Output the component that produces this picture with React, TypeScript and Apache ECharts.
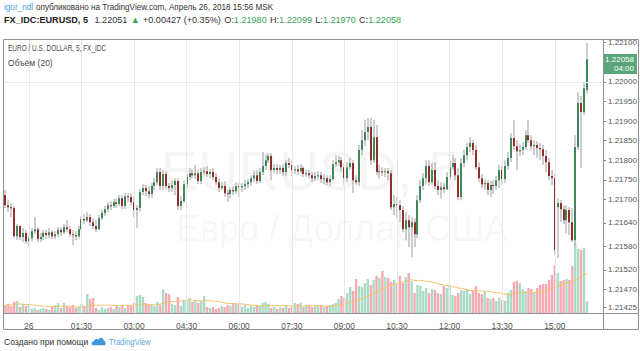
import React, { useEffect, useRef } from "react";
import * as echarts from "echarts";

// ---------- data ----------
const START_TIME = "23:20"; // first 5-minute bar (25 Apr)
const FUTURE_SLOTS = 5; // empty slots right of the last bar

const OPEN = [
  1.21711, 1.21685, 1.2168, 1.21678, 1.21606, 1.21632, 1.21604, 1.21614, 1.21593, 1.21601,
  1.21619, 1.21624, 1.21599, 1.21604, 1.21614, 1.21609, 1.21616, 1.21606, 1.21611, 1.21622,
  1.21616, 1.21629, 1.21624, 1.21611, 1.21609, 1.21606, 1.21624, 1.2165, 1.21647, 1.21655,
  1.21642, 1.21632, 1.21624, 1.21652, 1.21665, 1.21675, 1.21685, 1.21683, 1.21693, 1.21688,
  1.21703, 1.21683, 1.21708, 1.21706, 1.21693, 1.21673, 1.21678, 1.21719, 1.21729, 1.21721,
  1.21714, 1.21734, 1.21744, 1.2177, 1.21734, 1.21765, 1.21734, 1.21729, 1.21737, 1.21747,
  1.21683, 1.21696, 1.21739, 1.21757, 1.21767, 1.21762, 1.21767, 1.21747, 1.2177, 1.21772,
  1.21765, 1.2177, 1.21757, 1.21744, 1.21729, 1.21734, 1.21716, 1.21714, 1.21724, 1.21721,
  1.21734, 1.21731, 1.21734, 1.21739, 1.21744, 1.21754, 1.21762, 1.21747, 1.2177, 1.21785,
  1.218, 1.21811, 1.21775, 1.2178, 1.21775, 1.2178, 1.2177, 1.21793, 1.21788, 1.21775,
  1.21777, 1.21772, 1.2178, 1.21765, 1.21767, 1.21762, 1.21754, 1.2176, 1.21762, 1.21752,
  1.21754, 1.21744, 1.21752, 1.2179, 1.21795, 1.218, 1.21782, 1.21754, 1.21782, 1.21793,
  1.21749, 1.21744, 1.21826, 1.21851, 1.21872, 1.21885, 1.218, 1.21859, 1.2177, 1.21772,
  1.2177, 1.21772, 1.21767, 1.2168, 1.21688, 1.21685, 1.21673, 1.21624, 1.21647, 1.21629,
  1.21642, 1.21611, 1.21698, 1.21734, 1.21754, 1.21785, 1.21744, 1.21775, 1.21734, 1.21724,
  1.21731, 1.21726, 1.21757, 1.21782, 1.21793, 1.21762, 1.21706, 1.21793, 1.21813, 1.21834,
  1.21844, 1.21826, 1.21782, 1.21754, 1.21739, 1.21742, 1.21724, 1.21737, 1.21734, 1.21749,
  1.21775, 1.21752, 1.21785, 1.21806, 1.21857, 1.21836, 1.21823, 1.21826, 1.21834, 1.21864,
  1.21851, 1.21836, 1.21839, 1.21831, 1.21828, 1.21811, 1.21795, 1.2176, 1.21754, 1.2168,
  1.21691, 1.21675, 1.21647, 1.21673, 1.21642, 1.21596, 1.21834, 1.21946, 1.21923, 1.2198,
];
const HIGH = [
  1.21724, 1.21698, 1.21691, 1.21683, 1.21637, 1.21634, 1.21627, 1.21622, 1.21609, 1.21627,
  1.21655, 1.21629, 1.21614, 1.21622, 1.21622, 1.21627, 1.21622, 1.21619, 1.21629, 1.21629,
  1.21637, 1.21647, 1.21632, 1.21622, 1.21619, 1.21632, 1.21657, 1.21663, 1.21668, 1.21663,
  1.21652, 1.21647, 1.2166, 1.21673, 1.21683, 1.21693, 1.21696, 1.21701, 1.21701, 1.21711,
  1.21711, 1.21716, 1.21716, 1.21716, 1.21708, 1.21685, 1.21726, 1.21739, 1.21737, 1.21734,
  1.21742, 1.21754, 1.2178, 1.2178, 1.21775, 1.21772, 1.21742, 1.21749, 1.21754, 1.21754,
  1.21708, 1.21749, 1.21765, 1.2178, 1.21775, 1.21788, 1.21775, 1.2178, 1.21782, 1.21785,
  1.21777, 1.2178, 1.21767, 1.21754, 1.21744, 1.21747, 1.21726, 1.21731, 1.21734, 1.21744,
  1.21742, 1.21742, 1.21749, 1.21752, 1.21762, 1.21772, 1.21775, 1.2178, 1.21821, 1.21813,
  1.21818, 1.21818, 1.2179, 1.2179, 1.21788, 1.2179, 1.218, 1.21806, 1.218, 1.21785,
  1.21788, 1.2179, 1.21785, 1.21775, 1.21775, 1.2177, 1.2177, 1.21772, 1.2177, 1.21765,
  1.21762, 1.21762, 1.218, 1.21813, 1.21811, 1.21808, 1.21793, 1.21795, 1.21806, 1.218,
  1.21762, 1.21839, 1.21877, 1.21903, 1.21908, 1.21908, 1.21903, 1.2189, 1.21788, 1.21782,
  1.2178, 1.2178, 1.21775, 1.21711, 1.21706, 1.21698, 1.21683, 1.21668, 1.2166, 1.21655,
  1.21652, 1.21711, 1.21749, 1.21767, 1.218, 1.218, 1.21793, 1.21795, 1.21749, 1.21744,
  1.21742, 1.2177, 1.218, 1.21813, 1.21806, 1.2178, 1.21806, 1.21826, 1.21844, 1.21859,
  1.21851, 1.21839, 1.21795, 1.21765, 1.21752, 1.21749, 1.21747, 1.21749, 1.2176, 1.21788,
  1.21785, 1.218, 1.21821, 1.21869, 1.21903, 1.21851, 1.21841, 1.21846, 1.21877, 1.21903,
  1.21864, 1.21851, 1.21849, 1.21844, 1.21839, 1.21826, 1.21806, 1.21775, 1.21765, 1.21703,
  1.21698, 1.21685, 1.21685, 1.2168, 1.21678, 1.21864, 1.21974, 1.21964, 1.22, 1.22099,
];
const LOW = [
  1.21678, 1.21668, 1.21655, 1.21601, 1.21596, 1.21596, 1.21591, 1.21586, 1.21581, 1.21593,
  1.21611, 1.21591, 1.21591, 1.21596, 1.21599, 1.21601, 1.21599, 1.21599, 1.21604, 1.21606,
  1.21611, 1.21616, 1.21604, 1.21583, 1.21596, 1.21601, 1.21622, 1.21637, 1.21642, 1.21632,
  1.21624, 1.21616, 1.21622, 1.21647, 1.21657, 1.21668, 1.21673, 1.21678, 1.21678, 1.21683,
  1.21675, 1.21675, 1.21693, 1.21685, 1.21655, 1.21627, 1.2167, 1.21711, 1.21708, 1.21703,
  1.21703, 1.21724, 1.21737, 1.21724, 1.21724, 1.21726, 1.21719, 1.21719, 1.21711, 1.21673,
  1.21673, 1.21691, 1.21729, 1.21749, 1.21754, 1.21752, 1.21739, 1.21739, 1.21762, 1.21757,
  1.21754, 1.21749, 1.21737, 1.21719, 1.21724, 1.21706, 1.21693, 1.21703, 1.21711, 1.21714,
  1.21706, 1.21719, 1.21724, 1.21729, 1.21734, 1.21744, 1.21739, 1.21742, 1.21762, 1.21775,
  1.21793, 1.21749, 1.21767, 1.21765, 1.21765, 1.2176, 1.2176, 1.2178, 1.2176, 1.21765,
  1.21762, 1.21767, 1.21757, 1.21757, 1.21754, 1.21744, 1.21747, 1.21749, 1.21742, 1.21739,
  1.21737, 1.21734, 1.21747, 1.21782, 1.21785, 1.21772, 1.21737, 1.21744, 1.21775, 1.21716,
  1.21737, 1.21734, 1.21813, 1.21836, 1.21851, 1.21788, 1.21793, 1.21762, 1.21754, 1.2176,
  1.21757, 1.21749, 1.21673, 1.2166, 1.21652, 1.21642, 1.21616, 1.21596, 1.21578, 1.21553,
  1.21578, 1.21601, 1.21691, 1.21724, 1.21737, 1.21734, 1.21737, 1.21724, 1.21711, 1.21703,
  1.21716, 1.21724, 1.21749, 1.21775, 1.21749, 1.21698, 1.21698, 1.21782, 1.218, 1.21821,
  1.21813, 1.21775, 1.21744, 1.21729, 1.21724, 1.21711, 1.21706, 1.21714, 1.21724, 1.21729,
  1.21737, 1.21742, 1.21775, 1.21795, 1.21826, 1.21775, 1.21811, 1.21813, 1.21826, 1.21844,
  1.21826, 1.21813, 1.21806, 1.218, 1.21788, 1.2177, 1.21749, 1.21737, 1.21558, 1.2155,
  1.21642, 1.21637, 1.21614, 1.21609, 1.21591, 1.21583, 1.21826, 1.2178, 1.21915, 1.2197,
];
const CLOSE = [
  1.21685, 1.2168, 1.21678, 1.21606, 1.21632, 1.21604, 1.21614, 1.21593, 1.21601, 1.21619,
  1.21624, 1.21599, 1.21604, 1.21614, 1.21609, 1.21616, 1.21606, 1.21611, 1.21622, 1.21616,
  1.21629, 1.21624, 1.21611, 1.21609, 1.21606, 1.21624, 1.2165, 1.21647, 1.21655, 1.21642,
  1.21632, 1.21624, 1.21652, 1.21665, 1.21675, 1.21685, 1.21683, 1.21693, 1.21688, 1.21703,
  1.21683, 1.21708, 1.21706, 1.21693, 1.21673, 1.21678, 1.21719, 1.21729, 1.21721, 1.21714,
  1.21734, 1.21744, 1.2177, 1.21734, 1.21765, 1.21734, 1.21729, 1.21737, 1.21747, 1.21683,
  1.21696, 1.21739, 1.21757, 1.21767, 1.21762, 1.21767, 1.21747, 1.2177, 1.21772, 1.21765,
  1.2177, 1.21757, 1.21744, 1.21729, 1.21734, 1.21716, 1.21714, 1.21724, 1.21721, 1.21734,
  1.21731, 1.21734, 1.21739, 1.21744, 1.21754, 1.21762, 1.21747, 1.2177, 1.21785, 1.218,
  1.21811, 1.21775, 1.2178, 1.21775, 1.2178, 1.2177, 1.21793, 1.21788, 1.21775, 1.21777,
  1.21772, 1.2178, 1.21765, 1.21767, 1.21762, 1.21754, 1.2176, 1.21762, 1.21752, 1.21754,
  1.21744, 1.21752, 1.2179, 1.21795, 1.218, 1.21782, 1.21754, 1.21782, 1.21793, 1.21749,
  1.21744, 1.21826, 1.21851, 1.21872, 1.21885, 1.218, 1.21859, 1.2177, 1.21772, 1.2177,
  1.21772, 1.21767, 1.2168, 1.21688, 1.21685, 1.21673, 1.21624, 1.21647, 1.21629, 1.21642,
  1.21611, 1.21698, 1.21734, 1.21754, 1.21785, 1.21744, 1.21775, 1.21734, 1.21724, 1.21731,
  1.21726, 1.21757, 1.21782, 1.21793, 1.21762, 1.21706, 1.21793, 1.21813, 1.21834, 1.21844,
  1.21826, 1.21782, 1.21754, 1.21739, 1.21742, 1.21724, 1.21737, 1.21734, 1.21749, 1.21775,
  1.21752, 1.21785, 1.21806, 1.21857, 1.21836, 1.21823, 1.21826, 1.21834, 1.21864, 1.21851,
  1.21836, 1.21839, 1.21831, 1.21828, 1.21811, 1.21795, 1.2176, 1.21754, 1.21571, 1.21691,
  1.21675, 1.21647, 1.21673, 1.21642, 1.21596, 1.21834, 1.21946, 1.21923, 1.21984, 1.22058,
];
const VOLUME = [
  80, 90, 70, 110, 120, 60, 80, 70, 90, 40,
  50, 30, 40, 50, 40, 30, 60, 80, 100, 50,
  100, 70, 60, 80, 50, 60, 90, 70, 190, 140,
  150, 50, 30, 60, 40, 50, 60, 40, 70, 60,
  80, 50, 70, 80, 100, 170, 180, 160, 100, 80,
  90, 70, 110, 80, 240, 200, 190, 90, 80, 160,
  70, 130, 120, 150, 110, 130, 100, 120, 170, 60,
  50, 60, 40, 50, 70, 60, 80, 70, 100, 90,
  100, 60, 80, 50, 70, 60, 80, 70, 100, 110,
  90, 50, 60, 40, 60, 50, 70, 50, 60, 100,
  90, 100, 60, 80, 70, 60, 80, 70, 80, 60,
  70, 80, 90, 100, 140, 170, 150, 200, 260, 220,
  340, 270, 260, 300, 340, 280, 330, 370, 350, 420,
  360, 350, 310, 330, 290, 370, 300, 360, 400, 320,
  200, 280, 270, 220, 250, 200, 240, 230, 200, 190,
  270, 250, 270, 180, 170, 200, 230, 220, 240, 190,
  220, 270, 200, 190, 210, 150, 140, 150, 120, 150,
  130, 120, 200, 230, 310, 320, 300, 240, 220, 250,
  240, 210, 250, 280, 290, 290, 330, 380, 480, 400,
  320, 330, 340, 330, 470, 700, 640, 630, 650, 120,
];
const VOLUME_MA_LENGTH = 20;

const X_TICK_TIMES = ["00:00", "01:30", "03:00", "04:30", "06:00", "07:30", "09:00", "10:30", "12:00", "13:30", "15:00"];
const X_TICK_LABELS = ["26", "01:30", "03:00", "04:30", "06:00", "07:30", "09:00", "10:30", "12:00", "13:30", "15:00"];
// 1.22050 sits under the last-price tag in the reference, so only its grid line shows
const Y_TICKS = [1.21425, 1.2147, 1.2152, 1.2158, 1.2164, 1.217, 1.2175, 1.218, 1.2185, 1.219, 1.2195, 1.22, 1.221];
const Y_GRID_EXTRA = [1.2205];
const Y_MIN = 1.2141;
const Y_MAX = 1.22107;
const LAST_PRICE = 1.22058;
const COUNTDOWN = "04:00";

// ---------- styling ----------
const FONT = "'Liberation Sans',Arial,sans-serif";
const UP = "#3f8658";
const DOWN = "#922f2b";
const WICK = "#9c9c9c";
const VOL_UP = "#a9dbc5";
const VOL_DOWN = "#f6abb4";
const GREEN = "#3aa35a";

function pad(n: number) {
  return n < 10 ? "0" + n : "" + n;
}

function buildCategories(): string[] {
  const [hh, mm] = START_TIME.split(":").map(Number);
  const start = hh * 60 + mm;
  const out: string[] = [];
  for (let k = 0; k < OPEN.length + FUTURE_SLOTS; k++) {
    const t = (start + 5 * k) % 1440;
    out.push(pad(Math.floor(t / 60)) + ":" + pad(t % 60));
  }
  return out;
}

let logoRegistered = false;
function registerLogo() {
  if (logoRegistered) return;
  logoRegistered = true;
  const Logo = echarts.graphic.extendPath(
    "M3 11 C0 11 0 6.5 3.2 6.5 C3.5 3.5 7 2.5 8.5 4.5 C9.5 1 15 1 15 5.5 C18 5.5 18 11 15 11 Z M3.5 9.5 L7 7 L9.5 8.5 L14 5 L14.5 5.7 L9.6 9.6 L7 8 L4 10 Z",
    {}
  );
  echarts.graphic.registerShape("tvlogo", Logo);
}

function txt(x: number, y: number, text: string, fill: string, size: number, scaleX: number, extra: any = {}) {
  return {
    type: "text",
    x,
    y,
    scaleX,
    z: 50,
    style: {
      text,
      fill,
      fontSize: size,
      fontFamily: FONT,
      textVerticalAlign: "middle",
      ...extra,
    },
  };
}

export default function App() {
  const ref = useRef<HTMLDivElement>(null);

  useEffect(() => {
    document.body.style.margin = "0";
    document.body.style.background = "#ffffff";
    if (!ref.current) return;
    registerLogo();
    const chart = echarts.init(ref.current, undefined, { renderer: "svg" });

    const categories = buildCategories();
    const candleData = OPEN.map((o, i) => [i, o, CLOSE[i], LOW[i], HIGH[i]]);
    const volData = VOLUME.map((v, i) => ({
      value: v,
      itemStyle: { color: CLOSE[i] >= OPEN[i] ? VOL_UP : VOL_DOWN },
    }));
    const volMA = VOLUME.map((_, i) => {
      const s = Math.max(0, i - VOLUME_MA_LENGTH + 1);
      const w = VOLUME.slice(s, i + 1);
      return +(w.reduce((a, b) => a + b, 0) / w.length).toFixed(1);
    });
    const labelMap: Record<string, string> = {};
    X_TICK_TIMES.forEach((t, k) => (labelMap[t] = X_TICK_LABELS[k]));

    const option: any = {
      animation: false,
      backgroundColor: "#ffffff",
      grid: [
        { left: 4, right: 37, top: 40, bottom: 38 },
        { left: 4, right: 37, top: 213, bottom: 38 },
      ],
      xAxis: [
        {
          type: "category",
          gridIndex: 0,
          data: categories,
          boundaryGap: true,
          axisLine: { show: false },
          axisTick: { show: false },
          splitLine: { show: false },
          axisLabel: {
            interval: (_idx: number, val: string) => val in labelMap,
            formatter: (val: string) => labelMap[val] ?? "",
            fontSize: 8.5,
            fontFamily: FONT,
            color: "#555555",
            margin: 8,
          },
        },
        {
          type: "category",
          gridIndex: 1,
          data: categories,
          boundaryGap: true,
          show: false,
        },
      ],
      yAxis: [
        {
          type: "value",
          gridIndex: 0,
          position: "right",
          min: Y_MIN,
          max: Y_MAX,
          scale: true,
          axisLine: { show: false },
          splitLine: { show: false },
          axisTick: {
            show: true,
            length: 3,
            customValues: Y_TICKS,
            lineStyle: { color: "#8a8a8a" },
          },
          axisLabel: {
            customValues: Y_TICKS,
            formatter: (v: number) => v.toFixed(5),
            fontSize: 8,
            fontFamily: FONT,
            color: "#555555",
            margin: 5,
          },
        },
        {
          type: "value",
          gridIndex: 1,
          min: 0,
          max: 1000,
          show: false,
        },
      ],
      series: [
        {
          type: "line",
          name: "grid",
          xAxisIndex: 0,
          yAxisIndex: 0,
          data: [],
          z: 1,
          silent: true,
          markLine: {
            silent: true,
            symbol: "none",
            animation: false,
            label: { show: false },
            lineStyle: { color: "#e8e8e8", type: "solid", width: 1 },
            data: [
              ...X_TICK_TIMES.map((t) => ({ xAxis: t })),
              ...Y_TICKS.map((v) => ({ yAxis: v })),
              ...Y_GRID_EXTRA.map((v) => ({ yAxis: v })),
            ],
          },
        },
        {
          type: "bar",
          name: "volume",
          xAxisIndex: 1,
          yAxisIndex: 1,
          data: volData,
          barCategoryGap: "18%",
          z: 2,
          silent: true,
        },
        {
          type: "line",
          name: "volumeMA",
          xAxisIndex: 1,
          yAxisIndex: 1,
          data: volMA,
          showSymbol: false,
          lineStyle: { color: "#f3c36c", width: 1 },
          z: 2,
          silent: true,
        },
        {
          type: "custom",
          name: "EURUSD",
          xAxisIndex: 0,
          yAxisIndex: 0,
          data: candleData,
          encode: { x: 0, y: [1, 2, 3, 4] },
          z: 3,
          silent: true,
          renderItem: (_params: any, api: any) => {
            const idx = api.value(0);
            const o = api.value(1);
            const c = api.value(2);
            const l = api.value(3);
            const h = api.value(4);
            const po = api.coord([idx, o]);
            const pc = api.coord([idx, c]);
            const pl = api.coord([idx, l]);
            const ph = api.coord([idx, h]);
            const x = Math.round(po[0]);
            const up = c >= o;
            const top = Math.min(po[1], pc[1]);
            const hgt = Math.max(1, Math.abs(po[1] - pc[1]));
            return {
              type: "group",
              children: [
                {
                  type: "line",
                  shape: { x1: x, y1: ph[1], x2: x, y2: pl[1] },
                  style: { stroke: WICK, lineWidth: 1 },
                },
                {
                  type: "rect",
                  shape: { x: x - 1, y: top, width: 2, height: hgt },
                  style: { fill: up ? UP : DOWN },
                },
              ],
            };
          },
        },
      ],
      graphic: [
        // watermark
        {
          type: "text",
          x: 310,
          y: 170,
          z: 0,
          silent: true,
          style: {
            text: "EURUSD, 5",
            fill: "rgba(0,0,0,0.04)",
            fontSize: 56,
            fontFamily: FONT,
            textAlign: "center",
            textVerticalAlign: "middle",
          },
        },
        {
          type: "text",
          x: 342,
          y: 228,
          z: 0,
          silent: true,
          style: {
            text: "Евро / Доллар США",
            fill: "rgba(0,0,0,0.04)",
            fontSize: 36,
            fontFamily: FONT,
            textAlign: "center",
            textVerticalAlign: "middle",
          },
        },
        // frame
        {
          type: "rect",
          z: 50,
          silent: true,
          shape: { x: 3.5, y: 39.5, width: 635, height: 290 },
          style: { fill: "none", stroke: "#8f8f8f", lineWidth: 1 },
        },
        {
          type: "line",
          z: 50,
          silent: true,
          shape: { x1: 603.5, y1: 39.5, x2: 603.5, y2: 329.5 },
          style: { stroke: "#8f8f8f", lineWidth: 1 },
        },
        {
          type: "line",
          z: 50,
          silent: true,
          shape: { x1: 3.5, y1: 313.5, x2: 638.5, y2: 313.5 },
          style: { stroke: "#8f8f8f", lineWidth: 1 },
        },
        // header
        {
          type: "text",
          x: 4,
          y: 7,
          scaleX: 0.86,
          z: 50,
          style: {
            text: "{a|igor_ndl} {b|опубликовано на TradingView.com, Апрель 26, 2018 15:56 MSK}",
            textVerticalAlign: "middle",
            rich: {
              a: { fill: "#4c9fd8", fontSize: 9.5, fontFamily: FONT },
              b: { fill: "#333333", fontSize: 9.5, fontFamily: FONT },
            },
          },
        },
        {
          type: "text",
          x: 4,
          y: 20,
          scaleX: 0.96,
          z: 50,
          style: {
            text:
              "{k|FX_IDC:EURUSD, 5}  {n|1.22051} {g|▲} {n|+0.00427 (+0.35%)} {n|O:}{g|1.21980} {n|H:}{g|1.22099} {n|L:}{g|1.21970} {n|C:}{g|1.22058}",
            textVerticalAlign: "middle",
            rich: {
              k: { fill: "#222222", fontSize: 9.5, fontWeight: "bold", fontFamily: FONT },
              n: { fill: "#333333", fontSize: 9.5, fontFamily: FONT },
              g: { fill: GREEN, fontSize: 9.5, fontFamily: FONT },
            },
          },
        },
        // legend in pane
        txt(8, 48, "EURO / U.S. DOLLAR, 5, FX_IDC", "#4a4a4a", 9, 0.72),
        txt(8, 63, "Объём (20)", "#4a4a4a", 9.5, 0.9),
        // last price tag
        {
          type: "rect",
          z: 60,
          silent: true,
          shape: { x: 604, y: 54, width: 33, height: 20 },
          style: { fill: "#5aa57a" },
        },
        {
          type: "text",
          x: 634,
          y: 59.5,
          z: 61,
          style: {
            text: LAST_PRICE.toFixed(5),
            fill: "#ffffff",
            fontSize: 8,
            fontFamily: FONT,
            textAlign: "right",
            textVerticalAlign: "middle",
          },
        },
        {
          type: "text",
          x: 634,
          y: 68.5,
          z: 61,
          style: {
            text: COUNTDOWN,
            fill: "#ffffff",
            fontSize: 8,
            fontFamily: FONT,
            textAlign: "right",
            textVerticalAlign: "middle",
          },
        },
        // footer
        txt(4, 342, "Создано при помощи", "#333333", 9.5, 0.9),
        {
          type: "tvlogo",
          x: 91,
          y: 336,
          scaleX: 0.85,
          scaleY: 0.85,
          z: 50,
          silent: true,
          style: { fill: "#3c9ad8" },
        },
        txt(109, 342, "TradingView", "#5aa8de", 9.5, 0.8),
      ],
    };

    chart.setOption(option);
    return () => chart.dispose();
  }, []);

  return <div ref={ref} style={{ width: 640, height: 351 }} />;
}
